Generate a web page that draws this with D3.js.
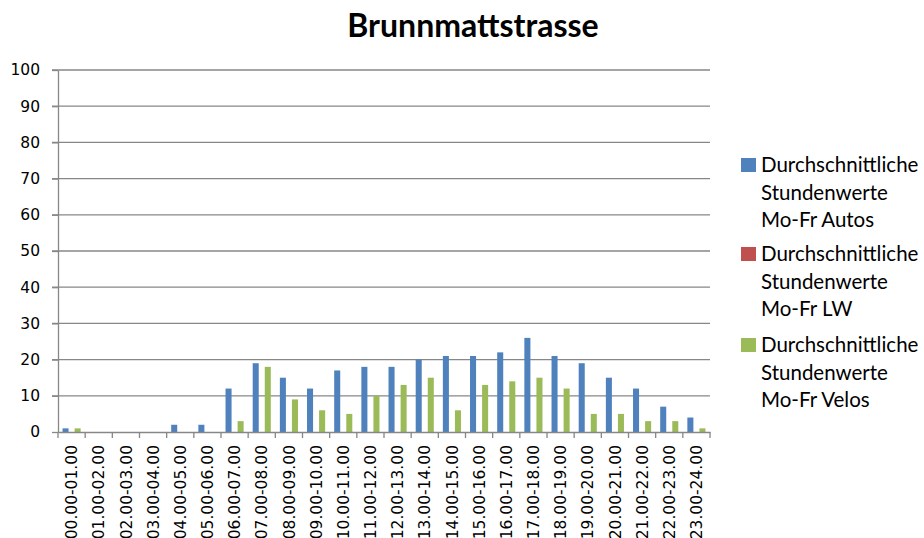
<!DOCTYPE html>
<html>
<head>
<meta charset="utf-8">
<script src="https://cdn.jsdelivr.net/npm/d3@7"></script>
<style>
    body { margin: 0; background: #fff; }
    svg { display: block; }
</style>
</head>
<body>
<svg id="chart" width="924" height="538"></svg>
<script>
const hours = ["00.00-01.00", "01.00-02.00", "02.00-03.00", "03.00-04.00", "04.00-05.00", "05.00-06.00",
    "06.00-07.00", "07.00-08.00", "08.00-09.00", "09.00-10.00", "10.00-11.00", "11.00-12.00",
    "12.00-13.00", "13.00-14.00", "14.00-15.00", "15.00-16.00", "16.00-17.00", "17.00-18.00",
    "18.00-19.00", "19.00-20.00", "20.00-21.00", "21.00-22.00", "22.00-23.00", "23.00-24.00"];

const autos = [1, 0, 0, 0, 2, 2, 12, 19, 15, 12, 17, 18, 18, 20, 21, 21, 22, 26, 21, 19, 15, 12, 7, 4];
const lw    = [0, 0, 0, 0, 0, 0, 0, 0, 0, 0, 0, 0, 0, 0, 0, 0, 0, 0, 0, 0, 0, 0, 0, 0];
const velos = [1, 0, 0, 0, 0, 0, 3, 18, 9, 6, 5, 10, 13, 15, 6, 13, 14, 15, 12, 5, 5, 3, 3, 1];

const series_names = ["Autos", "LW", "Velos"];
const y_ticks = [0, 10, 20, 30, 40, 50, 60, 70, 80, 90, 100];

const colors = ["#4F81BD", "#C0504D", "#9BBB59"];
const grid_color = "#878787";

const margin = { top: 70, left: 58, right: 214, bottom: 106 };
const W = 924, H = 538;
const w = W - margin.left - margin.right,
    h = H - margin.top - margin.bottom;

const svg = d3.select("#chart");
const g = svg.append("g")
    .attr("transform", "translate(" + margin.left + "," + margin.top + ")");

const scaleY = d3.scaleLinear().domain([0, 100]).range([h, 0]);
const scaleX = d3.scaleBand().domain(hours).range([0, w]).paddingInner(0).paddingOuter(0);

// 3 bars per group, gap = 150% of one bar
const barW = scaleX.bandwidth() / 4.5;
const scaleSeries = d3.scaleBand().domain(series_names)
    .range([barW * 0.75, barW * 3.75]).padding(0);

// gridlines
g.append("g")
    .selectAll("line")
    .data(y_ticks.filter(t => t > 0))
    .enter().append("line")
    .attr("x1", -6).attr("x2", w)
    .attr("y1", d => scaleY(d)).attr("y2", d => scaleY(d))
    .attr("stroke", grid_color)
    .attr("stroke-width", 1.3);

// y axis
const axisY = d3.axisLeft(scaleY).tickValues(y_ticks).tickSize(6).tickSizeOuter(0).tickPadding(12);
const gy = g.append("g").call(axisY);
gy.select(".domain").attr("stroke", grid_color).attr("stroke-width", 1.3);
gy.selectAll(".tick line").attr("stroke", grid_color).attr("stroke-width", 1.3);
gy.selectAll("text")
    .style("font-family", "'DejaVu Sans', Verdana, sans-serif")
    .style("font-size", "15.5px")
    .attr("fill", "#000");

// bars
const table = hours.map((hr, i) => ({ hour: hr, values: [autos[i], lw[i], velos[i]] }));

const groups = g.append("g")
    .selectAll("g")
    .data(table).enter()
    .append("g")
    .attr("transform", d => "translate(" + scaleX(d.hour) + ",0)");

groups.selectAll("rect")
    .data(d => d.values.map((v, k) => ({ name: series_names[k], value: v, k: k })))
    .enter().append("rect")
    .filter(d => d.value > 0)
    .attr("x", d => scaleSeries(d.name))
    .attr("width", scaleSeries.bandwidth())
    .attr("y", d => scaleY(d.value))
    .attr("height", d => h - scaleY(d.value))
    .attr("fill", d => colors[d.k]);

// x axis
const axisX = d3.axisBottom(scaleX).tickSize(0).tickPadding(0);
const gx = g.append("g")
    .attr("transform", "translate(0," + h + ")")
    .call(axisX);
gx.select(".domain").attr("stroke", grid_color).attr("stroke-width", 1.3);
gx.selectAll(".tick line").remove();
gx.selectAll("text")
    .style("font-family", "'DejaVu Sans', Verdana, sans-serif")
    .style("font-size", "15.5px")
    .attr("fill", "#000")
    .attr("text-anchor", "end")
    .attr("transform", "rotate(-90)")
    .attr("x", -13)
    .attr("y", 0)
    .attr("dy", "0.36em");

// category boundary ticks
g.append("g")
    .selectAll("line")
    .data(hours.map(d => scaleX(d)).concat([w]))
    .enter().append("line")
    .attr("x1", d => d).attr("x2", d => d)
    .attr("y1", h).attr("y2", h + 6)
    .attr("stroke", grid_color)
    .attr("stroke-width", 1.3);

// title
svg.append("text")
    .attr("x", 473)
    .attr("y", 37)
    .attr("text-anchor", "middle")
    .style("font-family", "Lato, 'Open Sans', sans-serif")
    .style("font-weight", "bold")
    .style("font-size", "32px")
    .text("Brunnmattstrasse");

// legend
const legend = svg.append("g").attr("transform", "translate(741,0)");
const legend_y = [158, 247, 338];

series_names.forEach((s, i) => {
    const item = legend.append("g").attr("transform", "translate(0," + legend_y[i] + ")");
    item.append("rect")
        .attr("width", 15).attr("height", 14)
        .attr("fill", colors[i]);
    const lines = ["Durchschnittliche", "Stundenwerte", "Mo-Fr " + s];
    item.append("text")
        .style("font-family", "Lato, 'Open Sans', sans-serif")
        .style("font-size", "20.5px")
        .selectAll("tspan")
        .data(lines).enter()
        .append("tspan")
        .attr("x", 20)
        .attr("y", (d, j) => 14 + j * 27.5)
        .text(d => d);
});
</script>
</body>
</html>
